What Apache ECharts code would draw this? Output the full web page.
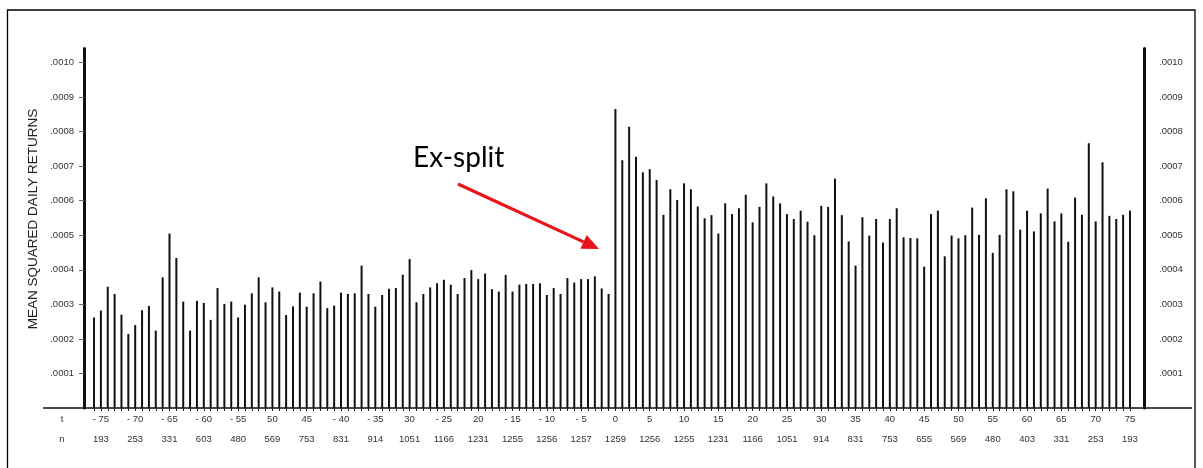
<!DOCTYPE html>
<html><head><meta charset="utf-8">
<script src="https://cdn.jsdelivr.net/npm/echarts@6/dist/echarts.min.js"></script>
<style>html,body{margin:0;padding:0;background:#fff}#c{width:1203px;height:468px}</style>
</head><body><div id="c"></div>
<script>
// Days relative to ex-split
const days = [];
for (let d = -76; d <= 75; d++) days.push(String(d));

// Mean squared daily returns, days -76 .. -1
const preSplit = [
  .000262,.000282,.000351,.000330,.000270,.000214,.000240,.000283,.000295,.000224,
  .000378,.000505,.000434,.000308,.000224,.000310,.000304,.000255,.000347,.000301,
  .000308,.000262,.000299,.000332,.000378,.000306,.000349,.000337,.000269,.000294,
  .000334,.000293,.000332,.000366,.000289,.000296,.000334,.000330,.000332,.000412,
  .000330,.000293,.000327,.000345,.000347,.000386,.000431,.000306,.000330,.000349,
  .000361,.000371,.000357,.000330,.000376,.000399,.000373,.000389,.000344,.000337,
  .000385,.000337,.000357,.000359,.000359,.000361,.000327,.000347,.000330,.000376,
  .000363,.000373,.000373,.000381,.000346,.000330
];
// Mean squared daily returns, days 0 .. 75
const postSplit = [
  .000865,.000717,.000814,.000727,.000682,.000691,.000660,.000559,.000633,.000602,
  .000650,.000633,.000583,.000549,.000558,.000505,.000592,.000561,.000578,.000617,
  .000537,.000582,.000650,.000612,.000592,.000561,.000547,.000571,.000539,.000500,
  .000585,.000582,.000664,.000558,.000482,.000412,.000552,.000499,.000547,.000479,
  .000547,.000578,.000494,.000492,.000491,.000409,.000561,.000571,.000439,.000499,
  .000491,.000500,.000580,.000501,.000607,.000449,.000501,.000633,.000627,.000516,
  .000571,.000511,.000563,.000635,.000540,.000563,.000481,.000609,.000559,.000766,
  .000540,.000711,.000556,.000547,.000559,.000571
];

// Tick labels of the t row and n row
const tickDays = [-75,-70,-65,-60,-55,-50,-45,-40,-35,-30,-25,-20,-15,-10,-5,0,5,10,15,20,25,30,35,40,45,50,55,60,65,70,75];
const tickLabels = ['- 75','- 70','- 65','- 60','- 55','50','45','- 40','- 35','30','- 25','20','- 15','- 10','- 5','0','5','10','15','20','25','30','35','40','45','50','55','60','65','70','75'];
const nCounts = [193,253,331,603,480,569,753,831,914,1051,1166,1231,1255,1256,1257,1259,1256,1255,1231,1166,1051,914,831,753,655,569,480,403,331,253,193];

const values = preSplit.concat(postSplit);
const fontFam = '"Liberation Sans", Arial, sans-serif';
const fmtY = v => (v <= 0 || v > 0.00101) ? '' : '.' + String(Math.round(v * 10000)).padStart(4, '0');
const showTick = (i, v) => tickDays.indexOf(+v) >= 0;

const GL = 90.6, GR = 69.6, GT = 48.6, GB = 60;
const chart = echarts.init(document.getElementById('c'));
const option = {
  animation: false,
  backgroundColor: '#fff',
  grid: { left: GL, right: GR, top: GT, bottom: GB, containLabel: false },
  xAxis: [{
    type: 'category', data: days, position: 'bottom',
    axisLine: { show: true, lineStyle: { color: '#111', width: 1.5 } },
    axisTick: { show: true, interval: 0, alignWithLabel: true, length: 3, lineStyle: { color: '#222', width: 1 } },
    axisLabel: { interval: showTick, formatter: v => tickLabels[tickDays.indexOf(+v)], fontSize: 9.5, color: '#333', margin: 6, fontFamily: fontFam },
    splitLine: { show: false }
  }, {
    type: 'category', data: days, position: 'bottom', offset: 20,
    axisLine: { show: false }, axisTick: { show: false },
    axisLabel: { interval: showTick, formatter: v => String(nCounts[tickDays.indexOf(+v)]), fontSize: 9.5, color: '#333', margin: 6, fontFamily: fontFam },
    splitLine: { show: false }
  }],
  yAxis: [{
    type: 'value', min: 0, max: 0.00104, interval: 0.0001, position: 'left', offset: 6.6,
    axisLine: { show: true, lineStyle: { color: '#111', width: 3 } },
    axisTick: { show: true, length: 5, lineStyle: { color: '#666', width: 1 } },
    splitLine: { show: false },
    axisLabel: { showMinLabel: false, showMaxLabel: false, formatter: fmtY, fontSize: 9.5, color: '#333', margin: 10, fontFamily: fontFam }
  }, {
    type: 'value', min: 0, max: 0.00104, interval: 0.0001, position: 'right', offset: 10.6,
    axisLine: { show: true, lineStyle: { color: '#111', width: 3 } },
    axisTick: { show: false },
    splitLine: { show: false },
    axisLabel: { showMinLabel: false, showMaxLabel: false, formatter: fmtY, fontSize: 9.5, color: '#333', margin: 15, fontFamily: fontFam }
  }],
  series: [{
    type: 'bar', data: values, xAxisIndex: 0, yAxisIndex: 0,
    barWidth: 2, itemStyle: { color: '#111' }, silent: true
  }]
};
chart.setOption(option);

const y0 = chart.convertToPixel({ yAxisIndex: 0 }, 0);
const gridRightPx = 1203 - GR;
const tip = [599, 249], start = [458, 184];
const ux = (tip[0] - start[0]), uy = (tip[1] - start[1]);
const L = Math.hypot(ux, uy), nx = ux / L, ny = uy / L;
const hl = 17, hw = 7.5;
const bx = tip[0] - nx * hl, by = tip[1] - ny * hl;

chart.setOption({
  graphic: [
    { type: 'rect', shape: { x: 7.5, y: 10, width: 1187.5, height: 480 }, style: { fill: 'none', stroke: '#000', lineWidth: 1.3 }, silent: true },
    { type: 'line', shape: { x1: 43, y1: y0, x2: GL, y2: y0 }, style: { stroke: '#111', lineWidth: 1.5 }, silent: true },
    { type: 'line', shape: { x1: gridRightPx, y1: y0, x2: 1192, y2: y0 }, style: { stroke: '#111', lineWidth: 1.5 }, silent: true },
    { type: 'text', x: 62, y: 419, style: { text: 't', font: '9.5px ' + fontFam, fill: '#333', textAlign: 'center', textVerticalAlign: 'middle' }, silent: true },
    { type: 'text', x: 62, y: 439, style: { text: 'n', font: '9.5px ' + fontFam, fill: '#333', textAlign: 'center', textVerticalAlign: 'middle' }, silent: true },
    { type: 'text', x: 33, y: 219, rotation: Math.PI / 2, style: { text: 'MEAN SQUARED DAILY RETURNS', font: '13.5px ' + fontFam, fill: '#222', textAlign: 'center', textVerticalAlign: 'middle' }, silent: true },
    { type: 'text', x: 413, y: 158, style: { text: 'Ex-split', font: '28px Lato, "Open Sans", sans-serif', fill: '#000', textAlign: 'left', textVerticalAlign: 'middle' }, silent: true },
    { type: 'line', shape: { x1: start[0], y1: start[1], x2: bx, y2: by }, style: { stroke: '#e8141b', lineWidth: 3.2 }, silent: true },
    { type: 'polygon', shape: { points: [tip, [bx - ny * hw, by + nx * hw], [bx + ny * hw, by - nx * hw]] }, style: { fill: '#e8141b' }, silent: true }
  ]
});
</script>
</body></html>
